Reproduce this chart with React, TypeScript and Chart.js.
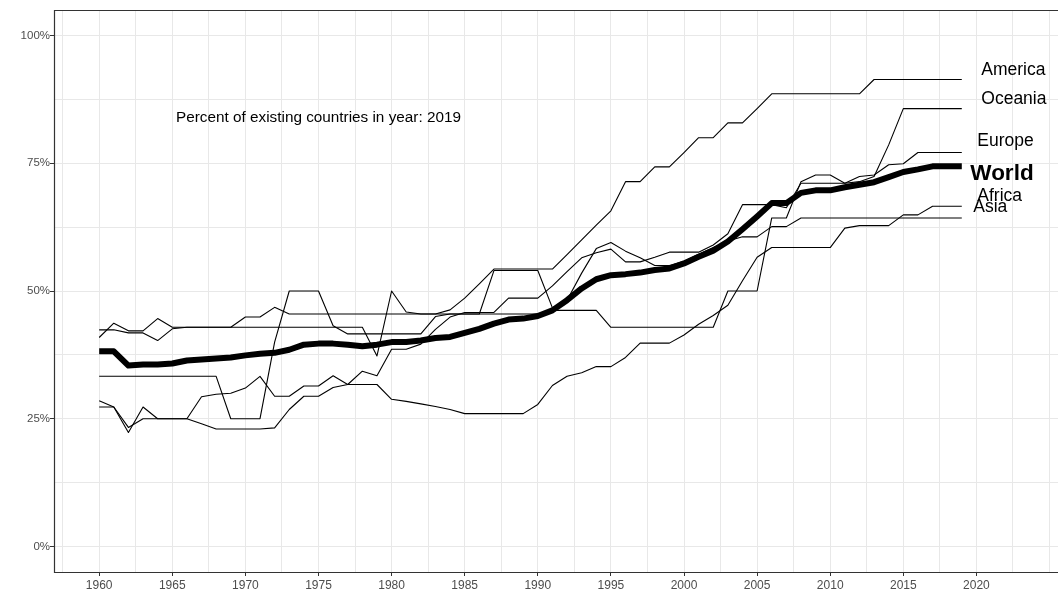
import React, { useEffect, useRef } from "react";
import { Chart, registerables } from "chart.js";

Chart.register(...registerables);

const years = [
  1960, 1961, 1962, 1963, 1964, 1965, 1966, 1967, 1968, 1969,
  1970, 1971, 1972, 1973, 1974, 1975, 1976, 1977, 1978, 1979,
  1980, 1981, 1982, 1983, 1984, 1985, 1986, 1987, 1988, 1989,
  1990, 1991, 1992, 1993, 1994, 1995, 1996, 1997, 1998, 1999,
  2000, 2001, 2002, 2003, 2004, 2005, 2006, 2007, 2008, 2009,
  2010, 2011, 2012, 2013, 2014, 2015, 2016, 2017, 2018, 2019,
];

const america = [
  42.4, 42.4, 41.8, 41.8, 40.3, 42.6, 42.9, 42.9, 42.9, 42.9,
  42.9, 42.9, 42.9, 42.9, 42.9, 42.9, 42.9, 42.9, 42.9, 37.3,
  50.0, 45.9, 45.5, 45.5, 46.3, 48.6, 51.4, 54.3, 54.3, 54.3,
  54.3, 54.3, 57.1, 60.0, 62.9, 65.7, 71.4, 71.4, 74.3, 74.3,
  77.1, 80.0, 80.0, 82.9, 82.9, 85.7, 88.6, 88.6, 88.6, 88.6,
  88.6, 88.6, 88.6, 91.4, 91.4, 91.4, 91.4, 91.4, 91.4, 91.4,
];

const oceania = [
  40.9, 43.7, 42.2, 42.2, 44.6, 42.9, 42.9, 42.9, 42.9, 42.9,
  44.9, 44.9, 46.8, 45.5, 45.5, 45.5, 45.5, 45.5, 45.5, 45.5,
  45.5, 45.5, 45.5, 45.5, 45.5, 45.5, 45.5, 45.5, 45.5, 45.5,
  45.5, 46.2, 46.2, 46.2, 46.2, 42.9, 42.9, 42.9, 42.9, 42.9,
  42.9, 42.9, 42.9, 50.0, 50.0, 50.0, 64.3, 64.3, 71.4, 72.7,
  72.7, 71.1, 71.4, 72.4, 78.6, 85.7, 85.7, 85.7, 85.7, 85.7,
];

const europe = [
  28.5, 27.3, 22.3, 27.3, 25.0, 25.0, 25.0, 24.0, 23.0, 23.0,
  23.0, 23.0, 23.2, 26.8, 29.4, 29.4, 31.1, 31.7, 34.3, 33.4,
  38.6, 38.6, 39.6, 42.5, 44.9, 45.8, 45.8, 45.8, 48.6, 48.6,
  48.6, 51.0, 53.8, 56.5, 57.5, 58.2, 55.7, 55.7, 56.6, 57.6,
  57.6, 57.6, 59.0, 61.2, 66.9, 66.9, 66.9, 66.3, 71.1, 71.1,
  71.1, 71.1, 72.4, 72.7, 74.7, 74.9, 77.1, 77.1, 77.1, 77.1,
];

const world = [
  38.2, 38.2, 35.4, 35.6, 35.6, 35.8, 36.4, 36.6, 36.8, 37.0,
  37.4, 37.7, 37.9, 38.5, 39.5, 39.7, 39.7, 39.5, 39.2, 39.5,
  40.0, 40.0, 40.3, 40.8, 41.0, 41.8, 42.6, 43.6, 44.4, 44.6,
  45.1, 46.2, 48.2, 50.5, 52.3, 53.1, 53.3, 53.6, 54.1, 54.4,
  55.4, 56.7, 57.9, 59.7, 62.1, 64.6, 67.2, 67.2, 69.2, 69.7,
  69.7, 70.3, 70.8, 71.3, 72.3, 73.3, 73.8, 74.4, 74.4, 74.4,
];

const africa = [
  27.3, 27.3, 23.3, 25.0, 25.0, 25.0, 25.0, 29.3, 29.8, 30.0,
  31.0, 33.3, 29.4, 29.4, 31.4, 31.4, 33.4, 31.7, 31.7, 31.7,
  28.8, 28.4, 27.9, 27.4, 26.8, 26.0, 26.0, 26.0, 26.0, 26.0,
  27.8, 31.5, 33.3, 34.0, 35.2, 35.2, 37.0, 39.8, 39.8, 39.8,
  41.4, 43.5, 45.2, 47.2, 52.0, 56.6, 58.5, 58.5, 58.5, 58.5,
  58.5, 62.3, 62.8, 62.8, 62.8, 64.9, 64.9, 66.6, 66.6, 66.6,
];

const asia = [
  33.3, 33.3, 33.3, 33.3, 33.3, 33.3, 33.3, 33.3, 33.3, 25.0,
  25.0, 25.0, 40.0, 50.0, 50.0, 50.0, 43.2, 41.6, 41.6, 41.6,
  41.6, 41.6, 41.6, 45.0, 45.5, 45.5, 45.5, 54.0, 54.0, 54.0,
  54.0, 46.7, 48.2, 53.5, 58.3, 59.5, 57.8, 56.5, 55.0, 55.0,
  55.8, 57.2, 58.5, 59.8, 60.6, 60.6, 62.6, 62.6, 64.3, 64.3,
  64.3, 64.3, 64.3, 64.3, 64.3, 64.3, 64.3, 64.3, 64.3, 64.3,
];

const seriesNames = ["America", "Oceania", "Europe", "Africa", "Asia", "World"];
const seriesValues = [america, oceania, europe, africa, asia, world];

// label anchor heights (percent units) for the end-of-line labels
const labelNames = ["America", "Oceania", "Europe", "World", "Africa", "Asia"];
const labelHeights = [93.3, 87.6, 79.3, 73.0, 68.5, 66.5];

const xMajorTicks = [1960, 1965, 1970, 1975, 1980, 1985, 1990, 1995, 2000, 2005, 2010, 2015, 2020];
const xGridTicks = [
  1957.5, 1960, 1962.5, 1965, 1967.5, 1970, 1972.5, 1975, 1977.5, 1980, 1982.5,
  1985, 1987.5, 1990, 1992.5, 1995, 1997.5, 2000, 2002.5, 2005, 2007.5, 2010,
  2012.5, 2015, 2017.5, 2020, 2022.5, 2025,
];
const yMajorTicks = [0, 25, 50, 75, 100];
const yGridTicks = [0, 12.5, 25, 37.5, 50, 62.5, 75, 87.5, 100];

const annotationText = "Percent of existing countries in year: 2019";
const annotationYear = 1975;
const annotationValue = 84.0;

const FONT = "'Liberation Sans', Arial, Helvetica, sans-serif";

const labelLeftOffsets: Record<string, number> = {
  America: 19.5,
  Oceania: 19.5,
  Europe: 15.5,
  World: 8.5,
  Africa: 15.5,
  Asia: 11.5,
};

const decorPlugin = {
  id: "decor",
  afterDatasetsDraw(chart: any) {
    const { ctx, chartArea, scales } = chart;
    const xs = scales.x;
    const ys = scales.y;
    ctx.save();
    ctx.fillStyle = "#000000";
    ctx.font = `15.3px ${FONT}`;
    ctx.textAlign = "center";
    ctx.textBaseline = "middle";
    ctx.fillText(
      annotationText,
      xs.getPixelForValue(annotationYear),
      ys.getPixelForValue(annotationValue)
    );
    const x2019 = xs.getPixelForValue(years[years.length - 1]);
    ctx.textAlign = "left";
    labelNames.forEach((name, i) => {
      ctx.font = name === "World" ? `bold 22.5px ${FONT}` : `17.5px ${FONT}`;
      ctx.fillStyle = "#000000";
      ctx.fillText(name, x2019 + labelLeftOffsets[name], ys.getPixelForValue(labelHeights[i]));
    });
    ctx.strokeStyle = "#333333";
    ctx.lineWidth = 1.2;
    ctx.beginPath();
    ctx.moveTo(chartArea.right + 5, chartArea.top + 0.5);
    ctx.lineTo(chartArea.left + 0.5, chartArea.top + 0.5);
    ctx.lineTo(chartArea.left + 0.5, chartArea.bottom + 0.5);
    ctx.lineTo(chartArea.right + 5, chartArea.bottom + 0.5);
    ctx.stroke();
    ctx.restore();
  },
};

export default function App() {
  const canvasRef = useRef<HTMLCanvasElement | null>(null);

  useEffect(() => {
    if (!canvasRef.current) return;
    const datasets = seriesNames.map((name, i) => ({
      label: name,
      data: years.map((yr, j) => ({ x: yr, y: seriesValues[i][j] })),
      borderColor: "#000000",
      backgroundColor: "#000000",
      borderWidth: name === "World" ? 6 : 1.1,
      pointRadius: 0,
      pointHoverRadius: 0,
      tension: 0,
      borderJoinStyle: "round" as const,
      borderCapStyle: "butt" as const,
      fill: false,
    }));

    const chart = new Chart(canvasRef.current, {
      type: "line",
      data: { datasets },
      plugins: [decorPlugin],
      options: {
        animation: false,
        responsive: true,
        maintainAspectRatio: false,
        layout: { padding: { top: 10, left: 0, right: 0, bottom: 0 } },
        plugins: {
          legend: { display: false },
          tooltip: { enabled: false },
          title: { display: false },
        },
        scales: {
          x: {
            type: "linear",
            min: 1956.91,
            max: 2025.58,
            afterBuildTicks: (scale: any) => {
              scale.ticks = xGridTicks.map((v) => ({ value: v }));
            },
            afterFit: (scale: any) => {
              scale.height = 25;
            },
            ticks: {
              autoSkip: false,
              maxRotation: 0,
              minRotation: 0,
              padding: 2,
              color: "#4d4d4d",
              font: { family: FONT, size: 12 },
              callback: (v: any) => (xMajorTicks.includes(Number(v)) ? String(v) : ""),
            },
            grid: {
              color: "#e8e8e8",
              lineWidth: 1,
              tickLength: 4,
              tickColor: (c: any) =>
                c.tick && xMajorTicks.includes(c.tick.value) ? "#333333" : "rgba(0,0,0,0)",
            },
            border: { display: false },
          },
          y: {
            type: "linear",
            min: -5,
            max: 105,
            afterBuildTicks: (scale: any) => {
              scale.ticks = yGridTicks.map((v) => ({ value: v }));
            },
            afterFit: (scale: any) => {
              scale.width = 54;
            },
            ticks: {
              autoSkip: false,
              padding: 0,
              color: "#4d4d4d",
              font: { family: FONT, size: 11.5 },
              callback: (v: any) => (yMajorTicks.includes(Number(v)) ? `${v}%` : ""),
            },
            grid: {
              color: "#e8e8e8",
              lineWidth: 1,
              tickLength: 4,
              tickColor: (c: any) =>
                c.tick && yMajorTicks.includes(c.tick.value) ? "#333333" : "rgba(0,0,0,0)",
            },
            border: { display: false },
          },
        },
      },
    });
    return () => chart.destroy();
  }, []);

  return (
    <div
      style={{
        position: "fixed",
        left: 0,
        top: 0,
        width: 1058,
        height: 597,
        background: "#ffffff",
        overflow: "hidden",
      }}
    >
      <canvas ref={canvasRef} />
    </div>
  );
}
